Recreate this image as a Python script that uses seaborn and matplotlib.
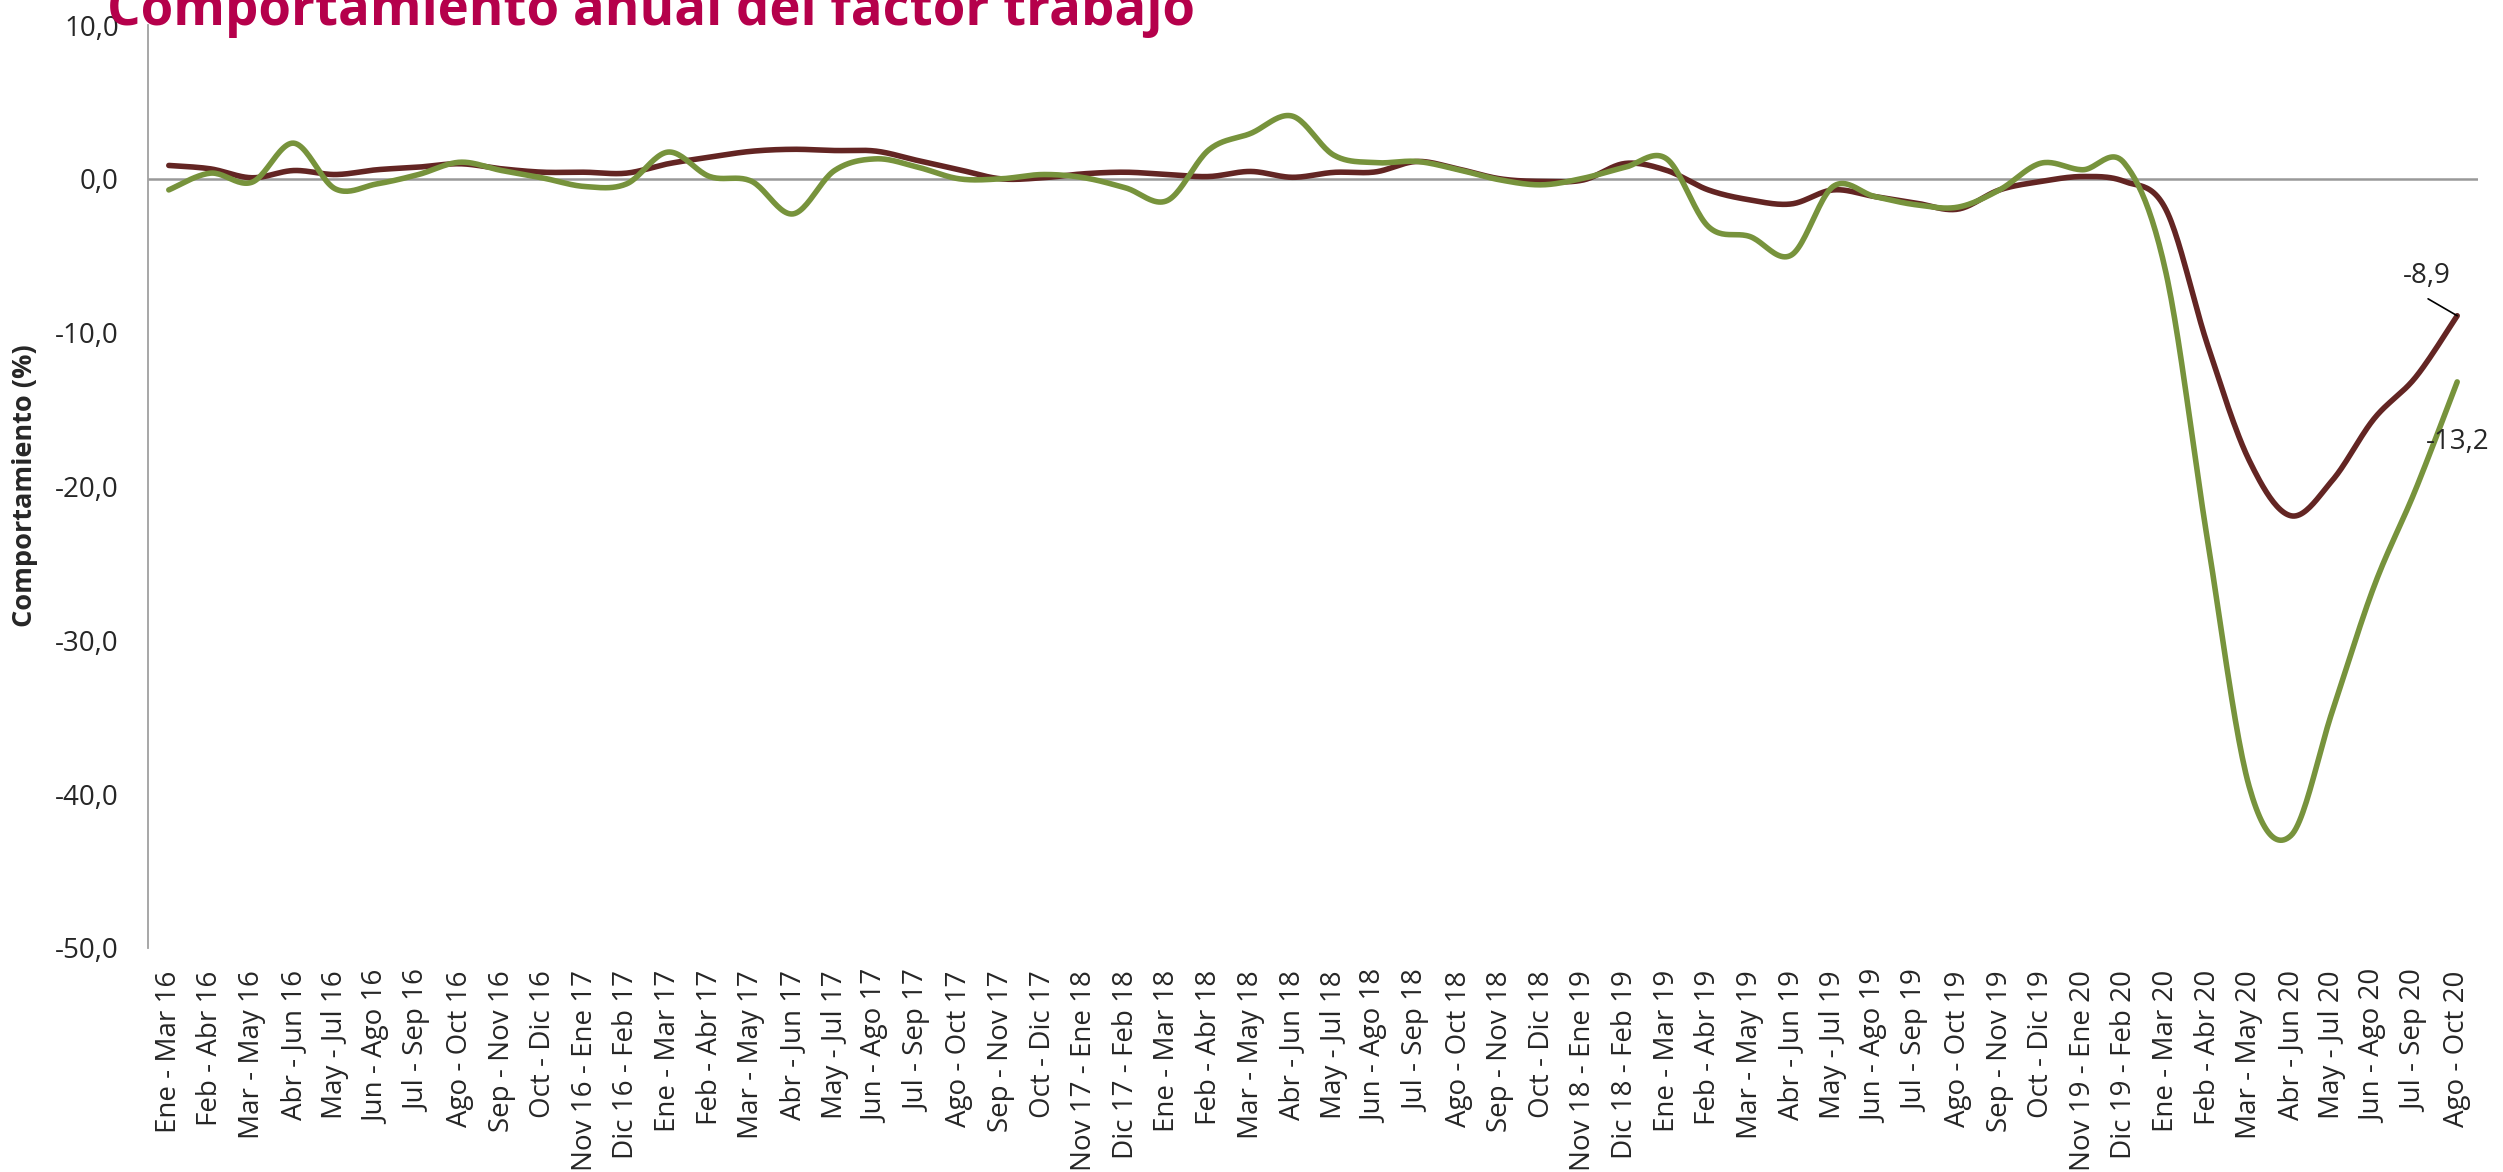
import numpy as np
import pandas as pd
import matplotlib
matplotlib.use("Agg")
import matplotlib.pyplot as plt
import seaborn as sns

# periodos moviles de tres meses
periodos = [
    "Ene - Mar 16", "Feb - Abr 16", "Mar - May 16", "Abr - Jun 16", "May - Jul 16",
    "Jun - Ago 16", "Jul - Sep 16", "Ago - Oct 16", "Sep - Nov 16", "Oct - Dic 16",
    "Nov 16 - Ene 17", "Dic 16 - Feb 17",
    "Ene - Mar 17", "Feb - Abr 17", "Mar - May 17", "Abr - Jun 17", "May - Jul 17",
    "Jun - Ago 17", "Jul - Sep 17", "Ago - Oct 17", "Sep - Nov 17", "Oct - Dic 17",
    "Nov 17 - Ene 18", "Dic 17 - Feb 18",
    "Ene - Mar 18", "Feb - Abr 18", "Mar - May 18", "Abr - Jun 18", "May - Jul 18",
    "Jun - Ago 18", "Jul - Sep 18", "Ago - Oct 18", "Sep - Nov 18", "Oct - Dic 18",
    "Nov 18 - Ene 19", "Dic 18 - Feb 19",
    "Ene - Mar 19", "Feb - Abr 19", "Mar - May 19", "Abr - Jun 19", "May - Jul 19",
    "Jun - Ago 19", "Jul - Sep 19", "Ago - Oct 19", "Sep - Nov 19", "Oct - Dic 19",
    "Nov 19 - Ene 20", "Dic 19 - Feb 20",
    "Ene - Mar 20", "Feb - Abr 20", "Mar - May 20", "Abr - Jun 20", "May - Jul 20",
    "Jun - Ago 20", "Jul - Sep 20", "Ago - Oct 20",
]

serie_granate = [
    0.87, 0.65, 0.07, 0.54, 0.28, 0.59, 0.76, 0.98, 0.65, 0.43,
    0.43, 0.37, 0.98, 1.41, 1.79, 1.92, 1.84, 1.80, 1.19, 0.59,
    0.00, 0.07, 0.33, 0.43, 0.28, 0.15, 0.48, 0.10, 0.42, 0.45,
    1.13, 0.63, 0.00, -0.17, -0.07, 1.00, 0.55, -0.72, -1.37, -1.63,
    -0.72, -1.15, -1.58, -1.97, -0.72, -0.17, 0.15, -0.17, -2.0, -10.8,
    -18.3, -21.9, -19.6, -15.6, -12.9, -8.9,
]

serie_verde = [
    -0.72, 0.37, -0.22, 2.32, -0.65, -0.33, 0.28, 1.08, 0.54, 0.05,
    -0.50, -0.33, 1.74, 0.15, -0.15, -2.28, 0.54, 1.30, 0.76, 0.00,
    0.00, 0.28, 0.07, -0.59, -1.41, 1.89, 2.95, 4.08, 1.54, 1.05,
    1.13, 0.59, -0.07, -0.39, 0.04, 0.75, 1.30, -3.10, -3.75, -4.95,
    -0.50, -1.15, -1.69, -1.84, -0.72, 1.02, 0.59, 1.02, -6.1, -23.5,
    -39.5, -42.7, -34.6, -26.5, -20.2, -13.2,
]

yticks = [-50, -40, -30, -20, -10, 0, 10]
ytick_labels = ["-50,0", "-40,0", "-30,0", "-20,0", "-10,0", "0,0", "10,0"]

GRANATE = "#632523"
VERDE = "#77933C"


def suavizar(y, n=24):
    # linea suavizada estilo Excel (bezier por tramos que pasa por los puntos)
    x = np.arange(len(y), dtype=float)
    P = np.column_stack([x, np.asarray(y, dtype=float)])
    P = np.vstack([P[0], P, P[-1]])
    out = []
    for k in range(1, len(P) - 2):
        p0, p1, p2, p3 = P[k - 1], P[k], P[k + 1], P[k + 2]
        c1 = p1 + (p2 - p0) / 6
        c2 = p2 - (p3 - p1) / 6
        t = np.linspace(0, 1, n, endpoint=(k == len(P) - 3))[:, None]
        b = (1 - t) ** 3 * p1 + 3 * (1 - t) ** 2 * t * c1 + 3 * (1 - t) * t ** 2 * c2 + t ** 3 * p2
        out.append(b)
    out = np.vstack(out)
    return pd.DataFrame({"x": out[:, 0], "y": out[:, 1]})


sns.set_style("white")
plt.rcParams["font.family"] = ["Open Sans", "DejaVu Sans"]

fig = plt.figure(figsize=(25.03, 11.72), dpi=100)
ax = fig.add_axes([148 / 2503, 1 - 948 / 1172, (2478 - 148) / 2503, (948 - 25) / 1172])

ax.axhline(0, color="#999999", lw=1.8, zorder=1)

for serie, color in [(serie_granate, GRANATE), (serie_verde, VERDE)]:
    df = suavizar(serie)
    sns.lineplot(data=df, x="x", y="y", sort=False, estimator=None, color=color,
                 linewidth=4, ax=ax, zorder=3, solid_capstyle="round")

ax.set_xlim(-0.5, len(periodos) - 0.5)
ax.set_ylim(-50, 10)
ax.set_xticks(range(len(periodos)))
ax.set_xticklabels(periodos, rotation=90, fontsize=20, va="top")
ax.set_yticks(yticks)
ax.set_yticklabels(ytick_labels, fontsize=20)
ax.tick_params(axis="x", length=0, pad=16)
ax.tick_params(axis="y", length=0, pad=21)
ax.set_xlabel("")
ax.set_ylabel("")

for s in ["top", "right", "bottom"]:
    ax.spines[s].set_visible(False)
ax.spines["left"].set_color("#a0a0a0")
ax.spines["left"].set_linewidth(1.3)

# etiquetas de datos del ultimo periodo
n = len(periodos) - 1
ax.text(n - 0.72, serie_granate[-1] + 2.6, f"{serie_granate[-1]:.1f}".replace(".", ","),
        fontsize=20, ha="center", va="center")
ax.plot([n - 0.7, n], [serie_granate[-1] + 1.1, serie_granate[-1]], color="black", lw=1.2, zorder=4)
ax.text(n + 0.02, serie_verde[-1] - 3.9, f"{serie_verde[-1]:.1f}".replace(".", ","),
        fontsize=20, ha="center", va="center", zorder=5)

fig.text(25 / 2503, 1 - 486 / 1172, "Comportamiento (%)", rotation=90, fontsize=19.5,
         fontweight="bold", ha="center", va="center")
fig.text(107 / 2503, 1 - 25 / 1172, "Comportamiento anual del factor trabajo",
         fontsize=38, fontweight="bold", color="#B5004B", ha="left", va="baseline")

fig.savefig("out.png", dpi=100)
